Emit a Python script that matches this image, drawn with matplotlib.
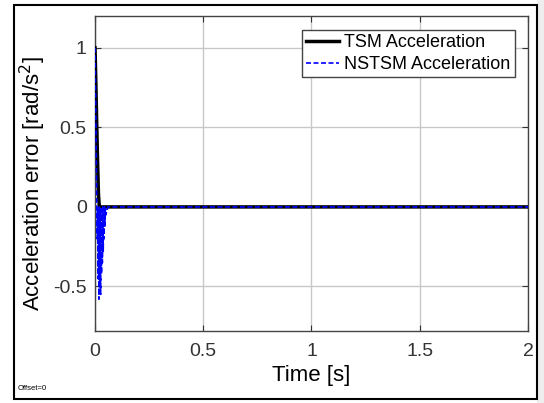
import matplotlib
matplotlib.use("Agg")
import matplotlib.pyplot as plt
from matplotlib.patches import Rectangle

plt.rcParams['font.family'] = ['Liberation Sans', 'DejaVu Sans']

# TSM: fast decay from 1 to 0, then stays at zero
tsm_t = [0.0, 0.004, 0.008, 0.012, 0.016, 0.02, 0.5, 1.0, 1.5, 2.0]
tsm_y = [1.0, 0.78, 0.52, 0.28, 0.08, 0.0, 0.0, 0.0, 0.0, 0.0]

# NSTSM: chattering down to about -0.55 during the first ~0.05 s
nstsm_t = [0.0, 0.004, 0.008, 0.010, 0.012, 0.014, 0.016, 0.018, 0.020, 0.022,
           0.024, 0.026, 0.028, 0.030, 0.032, 0.034, 0.036, 0.038, 0.040, 0.042,
           0.044, 0.046, 0.048, 0.050, 0.06, 0.5, 1.0, 1.5, 2.0]
nstsm_y = [1.0, 0.55, 0.05, -0.2, 0.0, -0.45, -0.02, -0.58, 0.0, -0.5,
           -0.03, -0.55, 0.0, -0.42, -0.02, -0.35, 0.0, -0.28, -0.01, -0.2,
           0.0, -0.12, -0.01, -0.05, 0.0, 0.0, 0.0, 0.0, 0.0]

x_ticks = [0, 0.5, 1, 1.5, 2]
x_tick_labels = ["0", "0.5", "1", "1.5", "2"]
y_ticks = [-0.5, 0, 0.5, 1]
y_tick_labels = ["-0.5", "0", "0.5", "1"]

fig = plt.figure(figsize=(5.44, 4.03), dpi=100)
fig.patch.set_facecolor("white")

# outer frame and grey strip on the right, as in the screenshot
fig.patches.append(Rectangle((0.988, 0), 0.012, 1, transform=fig.transFigure,
                             facecolor="#eeeeee", edgecolor="none", zorder=0))
fig.patches.append(Rectangle((14 / 544, 4 / 403), (537 - 14) / 544, (398 - 4) / 403,
                             transform=fig.transFigure, fill=False,
                             edgecolor="black", linewidth=1.5, zorder=1))

ax = fig.add_axes([95 / 544, 1 - 331 / 403, (528 - 95) / 544, (331 - 16) / 403])

ax.plot(tsm_t, tsm_y, color="black", linewidth=2.5, label="TSM Acceleration", zorder=3)
ax.plot(nstsm_t, nstsm_y, color="blue", linewidth=1.2, linestyle=(0, (3, 1.5)),
        label="NSTSM Acceleration", zorder=4)

ax.set_xlim(0, 2)
ax.set_ylim(-0.78, 1.2)
ax.set_xticks(x_ticks)
ax.set_xticklabels(x_tick_labels)
ax.set_yticks(y_ticks)
ax.set_yticklabels(y_tick_labels)
ax.tick_params(direction="in", length=4, labelsize=14, colors="#333333",
               top=True, right=True)
ax.tick_params(axis="x", pad=9)
ax.tick_params(axis="y", pad=6)
ax.grid(True, color="#c8c8c8", linewidth=1.0)
ax.set_axisbelow(True)
for s in ax.spines.values():
    s.set_color("#444444")
    s.set_linewidth(1.0)

ax.set_xlabel("Time [s]", fontsize=16, labelpad=3)
ax.set_ylabel("Acceleration error [rad/s$^2$]", fontsize=16)
ax.yaxis.set_label_coords(-0.108, 0.468)

leg = ax.legend(loc="upper right", bbox_to_anchor=(0.97, 0.956), fontsize=13,
                fancybox=False, framealpha=1, edgecolor="#444444",
                handlelength=1.8, handletextpad=0.3, borderpad=0.25,
                labelspacing=0.25, borderaxespad=0)
leg.get_frame().set_linewidth(1.0)

fig.text(18 / 544, 1 - 388 / 403, "Offset=0", fontsize=5.5, va="center", ha="left")

fig.savefig("out.png", dpi=100)
